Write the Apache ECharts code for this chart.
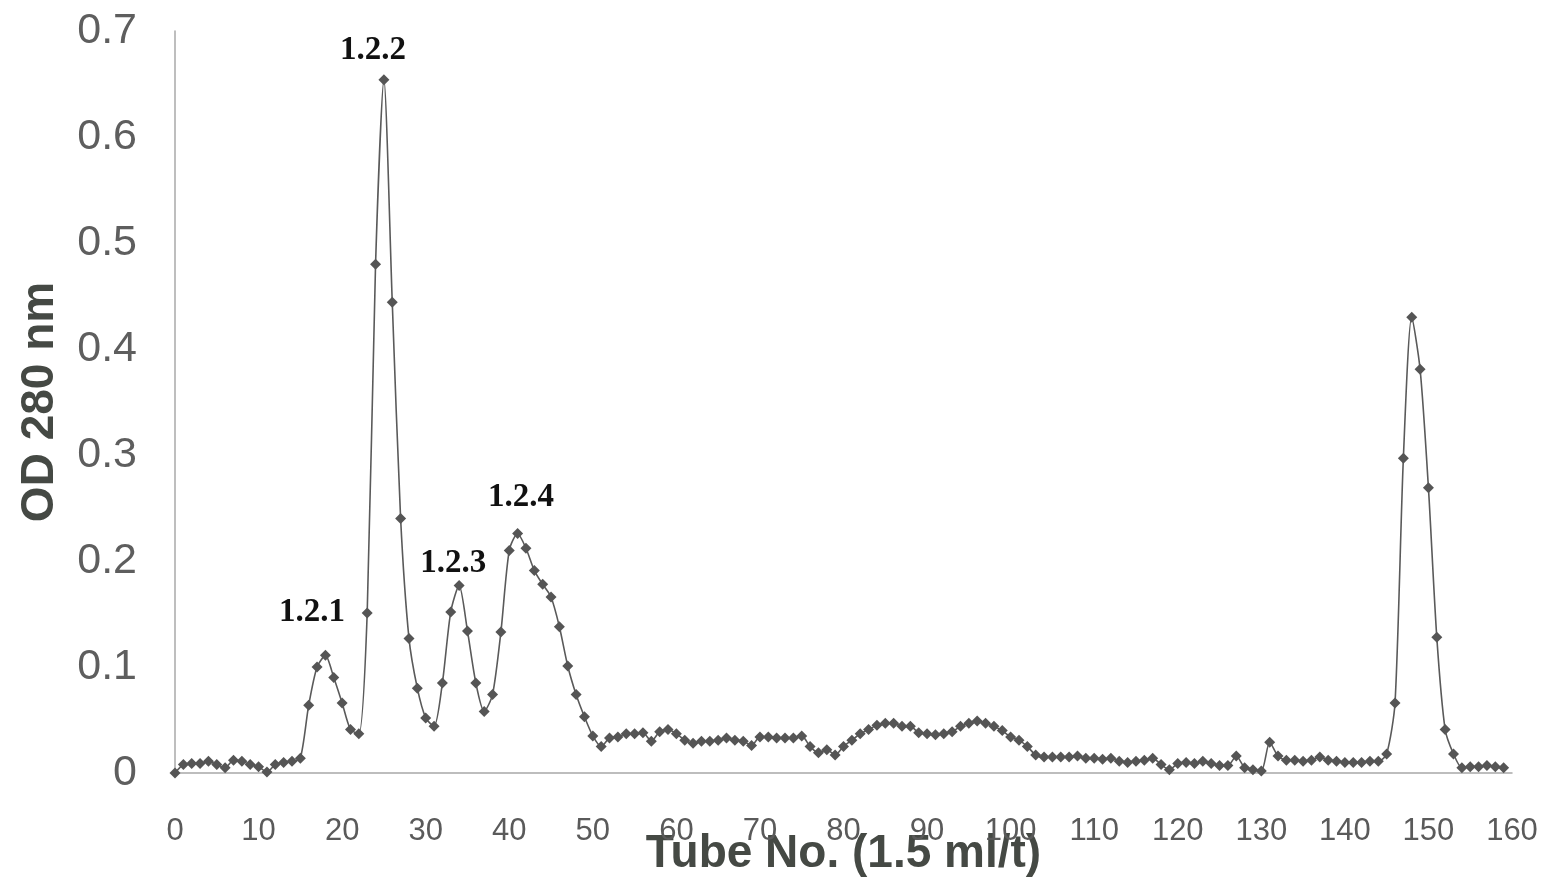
<!DOCTYPE html>
<html>
<head>
<meta charset="utf-8">
<title>OD 280 nm elution profile</title>
<script src="https://cdn.jsdelivr.net/npm/echarts@6/dist/echarts.min.js"></script>
<style>
  html, body { margin: 0; padding: 0; background: #fff; }
  #chart { width: 1561px; height: 884px; }
</style>
</head>
<body>
<div id="chart"></div>
<script>
// OD 280 nm for each tube, starting at tube 0
const odValues = [
  0.000, 0.008, 0.009, 0.009, 0.011, 0.008, 0.005, 0.012, 0.011, 0.008,
  0.006, 0.001, 0.008, 0.010, 0.011, 0.014, 0.064, 0.100, 0.111, 0.090,
  0.066, 0.041, 0.037, 0.151, 0.480, 0.654, 0.444, 0.240, 0.127, 0.080,
  0.052, 0.044, 0.085, 0.152, 0.177, 0.134, 0.085, 0.058, 0.074, 0.133,
  0.210, 0.226, 0.212, 0.191, 0.178, 0.166, 0.138, 0.101, 0.074, 0.053,
  0.035, 0.025, 0.033, 0.034, 0.037, 0.037, 0.038, 0.030, 0.039, 0.041,
  0.037, 0.031, 0.028, 0.030, 0.030, 0.031, 0.033, 0.031, 0.030, 0.026,
  0.034, 0.034, 0.033, 0.033, 0.033, 0.035, 0.025, 0.019, 0.022, 0.017,
  0.025, 0.031, 0.037, 0.041, 0.045, 0.047, 0.047, 0.044, 0.044, 0.038,
  0.037, 0.036, 0.037, 0.039, 0.044, 0.047, 0.049, 0.047, 0.044, 0.040,
  0.034, 0.031, 0.025, 0.017, 0.015, 0.015, 0.015, 0.015, 0.016, 0.014,
  0.014, 0.013, 0.014, 0.011, 0.010, 0.011, 0.012, 0.014, 0.008, 0.003,
  0.009, 0.010, 0.009, 0.011, 0.009, 0.007, 0.007, 0.016, 0.005, 0.003,
  0.002, 0.029, 0.016, 0.012, 0.012, 0.011, 0.012, 0.015, 0.012, 0.011,
  0.010, 0.010, 0.010, 0.011, 0.011, 0.018, 0.066, 0.297, 0.430, 0.381,
  0.269, 0.128, 0.041, 0.018, 0.005, 0.006, 0.006, 0.007, 0.006, 0.005
];

// peak fraction labels, anchored in data coordinates
const peakNames = ["1.2.1", "1.2.2", "1.2.3", "1.2.4"];
const peakLabelTube = [16.4, 23.7, 33.3, 41.4];
const peakLabelOD = [0.151, 0.682, 0.198, 0.260];

const xTicks = { min: 0, max: 160, interval: 10 };
const yTicks = { min: 0, max: 0.7, interval: 0.1 };

const points = odValues.map((v, i) => [i, v]);

const chart = echarts.init(document.getElementById("chart"));

chart.setOption({
  animation: false,
  backgroundColor: "#ffffff",
  grid: {
    left: 175, right: 49, top: 31, bottom: 111,
    containLabel: false,
    outerBoundsMode: "none",
  },
  xAxis: {
    type: "value",
    min: xTicks.min,
    max: xTicks.max,
    interval: xTicks.interval,
    name: "Tube No. (1.5 ml/t)",
    nameLocation: "middle",
    nameGap: 58,
    nameMoveOverlap: false,
    nameTextStyle: {
      fontFamily: "Liberation Sans, Arial, sans-serif",
      fontWeight: "bold",
      fontSize: 46,
      color: "#454944",
    },
    axisLine: { lineStyle: { color: "#a8a8a8", width: 1.5 } },
    axisTick: { show: false },
    splitLine: { show: false },
    axisLabel: {
      margin: 43,
      fontFamily: "Liberation Sans, Arial, sans-serif",
      fontSize: 31,
      color: "#5a5a5a",
    },
  },
  yAxis: {
    type: "value",
    min: yTicks.min,
    max: yTicks.max,
    interval: yTicks.interval,
    name: "OD 280 nm",
    nameLocation: "middle",
    nameGap: 112,
    nameRotate: 90,
    nameMoveOverlap: false,
    nameTextStyle: {
      fontFamily: "Liberation Sans, Arial, sans-serif",
      fontWeight: "bold",
      fontSize: 46,
      color: "#454944",
    },
    axisLine: { show: true, lineStyle: { color: "#a8a8a8", width: 1.5 } },
    axisTick: { show: false },
    splitLine: { show: false },
    axisLabel: {
      margin: 38,
      fontFamily: "Liberation Sans, Arial, sans-serif",
      fontSize: 43,
      color: "#5e5e5e",
      formatter: (v) => (v === 0 ? "0" : v.toFixed(1)),
    },
  },
  series: [
    {
      type: "line",
      data: points,
      smooth: 0.25,
      symbol: "diamond",
      symbolSize: 11,
      showAllSymbol: true,
      lineStyle: { color: "#5a5a5a", width: 1.6 },
      itemStyle: { color: "#555555" },
      markPoint: {
        symbol: "rect",
        symbolSize: [2, 2],
        itemStyle: { color: "rgba(255,255,255,0)" },
        label: {
          show: true,
          position: "inside",
          formatter: "{b}",
          fontFamily: "Liberation Serif, Times New Roman, serif",
          fontWeight: "bold",
          fontSize: 33,
          color: "#111111",
        },
        data: peakNames.map((n, i) => ({
          name: n,
          coord: [peakLabelTube[i], peakLabelOD[i]],
        })),
      },
    },
  ],
});
</script>
</body>
</html>
